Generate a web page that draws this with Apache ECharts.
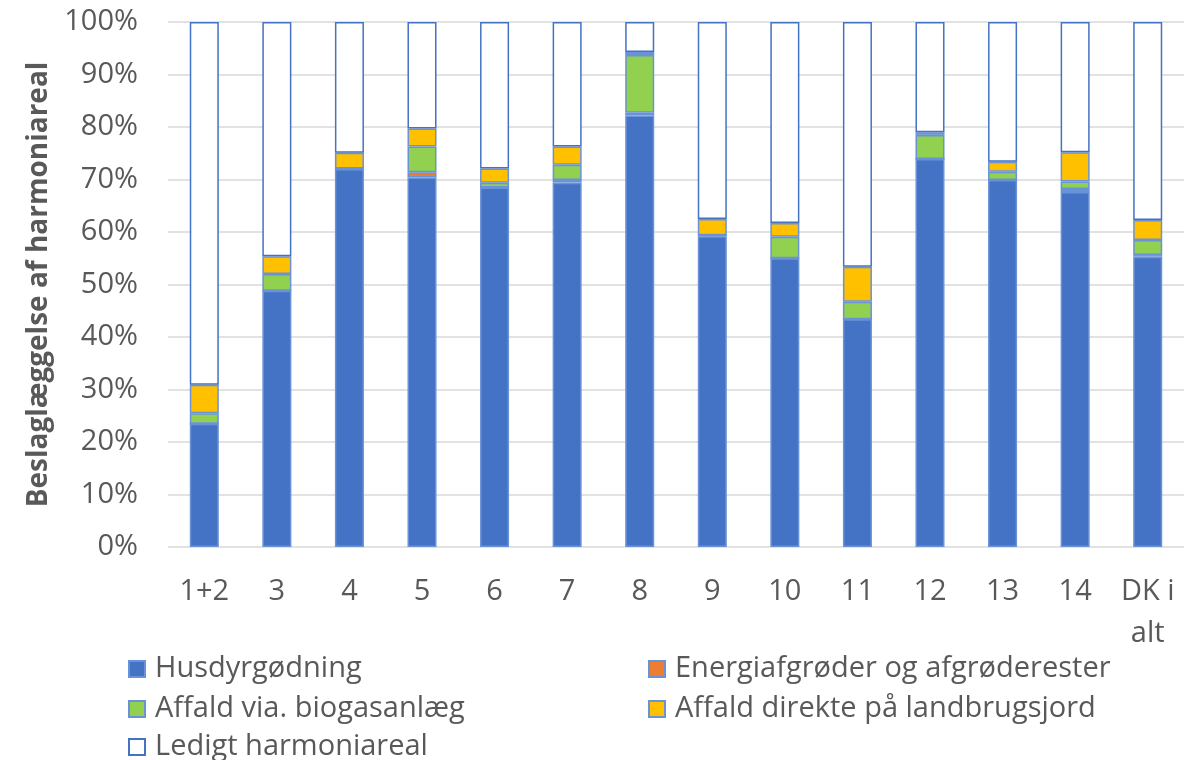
<!DOCTYPE html>
<html>
<head>
<meta charset="utf-8">
<script src="https://cdn.jsdelivr.net/npm/echarts@6/dist/echarts.min.js"></script>
<style>
  html, body { margin: 0; padding: 0; background: #fff; }
  #chart { width: 1197px; height: 760px; }
</style>
</head>
<body>
<div id="chart"></div>
<script>
// categories (regions)
const categories = ['1+2', '3', '4', '5', '6', '7', '8', '9', '10', '11', '12', '13', '14', 'DK i\nalt'];

// shares of harmony area, in %
const husdyr = [23.5, 48.8, 72.0, 70.4, 68.5, 69.4, 82.2, 59.2, 55.0, 43.4, 73.9, 69.9, 67.6, 55.3];
const energi = [0.0, 0.0, 0.0, 1.0, 0.0, 0.5, 0.5, 0.2, 0.0, 0.0, 0.0, 0.0, 0.6, 0.3];
const biogas = [2.0, 3.2, 0.1, 4.9, 0.9, 2.9, 11.0, 0.0, 4.1, 3.3, 4.6, 1.6, 1.4, 2.9];
const direkte = [5.4, 3.4, 3.0, 3.4, 2.7, 3.5, 0.6, 3.1, 2.6, 6.7, 0.5, 1.9, 5.6, 3.8];
const ledigt = [69.1, 44.6, 24.9, 20.3, 27.9, 23.7, 5.7, 37.5, 38.3, 46.6, 21.0, 26.6, 24.8, 37.7];

const yTicks = [0, 10, 20, 30, 40, 50, 60, 70, 80, 90, 100];

const FONT = 'Open Sans';
const TXT = '#595959';

const chart = echarts.init(document.getElementById('chart'));

function bar(name, data, color, border) {
  return {
    name: name,
    type: 'bar',
    stack: 'total',
    data: data,
    barWidth: '40%',
    itemStyle: {
      color: color,
      borderColor: border || '#6a92d6',
      borderWidth: 1.5,
    },
  };
}

// one legend per entry so the two-column layout stays fixed
function legendAt(name, left, top) {
  return {
    left: left,
    top: top,
    padding: 0,
    icon: 'rect',
    itemWidth: 16,
    itemHeight: 16,
    textStyle: {
      fontFamily: FONT,
      fontSize: 29,
      color: TXT,
      lineHeight: 30,
      padding: [0, 0, 0, 5],
    },
    data: [name],
  };
}

chart.setOption({
  animation: false,
  textStyle: { fontFamily: FONT },
  grid: {
    left: 168,
    right: 13,
    top: 22,
    bottom: 213,
  },
  xAxis: {
    type: 'category',
    data: categories,
    axisLine: { show: false },
    axisTick: { show: false },
    axisLabel: {
      margin: 24,
      fontFamily: FONT,
      fontSize: 29,
      color: TXT,
      lineHeight: 42,
      verticalAlign: 'top',
    },
  },
  yAxis: {
    type: 'value',
    min: 0,
    max: 100,
    interval: 10,
    name: 'Beslaglæggelse af harmoniareal',
    nameLocation: 'middle',
    nameGap: 112,
    nameTextStyle: {
      fontFamily: FONT,
      fontSize: 28,
      fontWeight: 'bold',
      color: TXT,
    },
    axisLine: { show: false },
    axisTick: { show: false },
    axisLabel: {
      margin: 30,
      fontFamily: FONT,
      fontSize: 29,
      color: TXT,
      formatter: (v) => (yTicks.indexOf(v) >= 0 ? v + '%' : ''),
    },
    splitLine: {
      lineStyle: { color: '#d9d9d9', width: 1.5 },
    },
  },
  legend: [
    legendAt('Husdyrgødning', 128, 654),
    legendAt('Affald via. biogasanlæg', 128, 694),
    legendAt('Ledigt harmoniareal', 128, 732),
    legendAt('Energiafgrøder og afgrøderester', 648, 654),
    legendAt('Affald direkte på landbrugsjord', 648, 694),
  ],
  series: [
    bar('Husdyrgødning', husdyr, '#4472c4'),
    bar('Energiafgrøder og afgrøderester', energi, '#ed7d31'),
    bar('Affald via. biogasanlæg', biogas, '#92d050'),
    bar('Affald direkte på landbrugsjord', direkte, '#ffc000'),
    bar('Ledigt harmoniareal', ledigt, '#ffffff', '#4472c4'),
  ],
});
</script>
</body>
</html>
